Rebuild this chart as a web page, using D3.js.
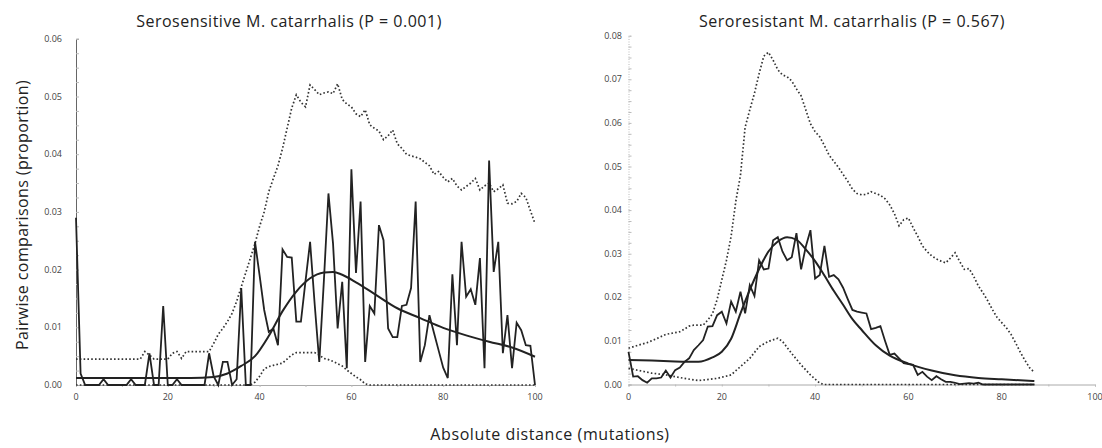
<!DOCTYPE html>
<html>
<head>
<meta charset="utf-8">
<script src="https://cdn.jsdelivr.net/npm/d3@7"></script>
<style>
  body { margin: 0; background: #fff; }
  text { font-family: "Open Sans", "Noto Sans", sans-serif; }
</style>
</head>
<body>
<div id="chart-area"></div>
<script>
// distance (mutations) = index in the observed arrays

// serosensitive: observed proportions at distance 0..100
var sensObserved = [
  0.029, 0.002, 0, 0, 0, 0, 0.001, 0, 0, 0,
  0, 0, 0.001, 0, 0, 0, 0.0055, 0, 0, 0.0137,
  0, 0, 0.001, 0, 0, 0, 0, 0, 0, 0.0055,
  0.0015, 0, 0.004, 0.004, 0, 0.001, 0.0168, 0, 0, 0.0248,
  0.019, 0.013, 0.0092, 0.0098, 0.0069, 0.0235, 0.0222, 0.0221, 0.011, 0.011,
  0.018, 0.0248, 0.014, 0.004, 0.018, 0.0332, 0.0245, 0.0098, 0.0179, 0.0029,
  0.0374, 0.0194, 0.0318, 0.004, 0.0137, 0.0124, 0.0277, 0.0251, 0.0098, 0.0083,
  0.0083, 0.0137, 0.0139, 0.0168, 0.0318, 0.004, 0.0069, 0.0121, 0.009, 0.006,
  0.003, 0.0012, 0.0192, 0.0069, 0.0248, 0.0153, 0.0166, 0.0139, 0.022, 0.0029,
  0.0389, 0.0196, 0.0248, 0.0055, 0.0121, 0.0029, 0.0108, 0.0095, 0.0069, 0.0068,
  0
];
var sensFitDist = [0, 5, 10, 15, 20, 25, 30, 33, 36, 39, 42, 45, 48, 51, 54, 56, 58, 61, 65, 70, 75, 80, 85, 90, 95, 100];
var sensFitVal  = [0.0012, 0.0012, 0.0012, 0.0012, 0.0012, 0.0012, 0.0014, 0.002, 0.0033, 0.005, 0.0085, 0.0128, 0.0162, 0.0185, 0.0195, 0.0196, 0.0191, 0.0178, 0.0158, 0.0133, 0.0116, 0.0099, 0.0086, 0.0075, 0.0065, 0.0049];
var sensUpperDist = [0, 14, 15, 16, 17, 20, 21, 22, 23, 24, 29, 30, 31, 32, 33, 34, 35, 36, 37, 38, 39, 40,
  41, 42, 43, 44, 45, 46, 47, 48, 49, 50, 51, 52, 53, 54, 55, 56, 57, 58, 59, 60,
  61, 62, 63, 64, 65, 66, 67, 68, 69, 70, 71, 72, 73, 74, 75, 76, 77, 78, 79, 80,
  81, 82, 83, 84, 85, 86, 87, 88, 89, 90, 91, 92, 93, 94, 95, 96, 97, 98, 99, 100];
var sensUpperVal = [0.0045, 0.0045, 0.0058, 0.0052, 0.0045, 0.0045, 0.0055, 0.0058, 0.0046, 0.0058, 0.0058, 0.0072, 0.0088, 0.0098, 0.011, 0.0124, 0.0145, 0.017, 0.0195, 0.022, 0.0245, 0.0275,
  0.03, 0.0335, 0.0358, 0.038, 0.041, 0.0445, 0.048, 0.0503, 0.049, 0.0482, 0.052, 0.0512, 0.0503, 0.0506, 0.0508, 0.0505, 0.0522, 0.0495, 0.0487, 0.0482,
  0.047, 0.0465, 0.0477, 0.0451, 0.0445, 0.044, 0.0425, 0.0432, 0.0442, 0.0418, 0.041, 0.04, 0.0397, 0.0395, 0.0392, 0.0386, 0.038, 0.0365, 0.037, 0.036,
  0.0352, 0.0358, 0.0345, 0.0338, 0.0344, 0.035, 0.0358, 0.0338, 0.0345, 0.035, 0.0335, 0.034, 0.0347, 0.0315, 0.0314, 0.0318, 0.0332, 0.0325, 0.0302, 0.028];
var sensLowerDist = [0, 38, 39, 40, 41, 42, 43, 44, 45, 46, 47, 48, 52, 53, 54, 55, 56, 57, 58, 59, 60, 61, 62, 63, 64, 100];
var sensLowerVal  = [0, 0, 0.0005, 0.0015, 0.0028, 0.0032, 0.0034, 0.0036, 0.0038, 0.0045, 0.0052, 0.0056, 0.0056, 0.0052, 0.0046, 0.0044, 0.0041, 0.0037, 0.0033, 0.0026, 0.002, 0.0014, 0.0009, 0.0002, 0, 0];

// seroresistant: observed proportions at distance 0..87
var resObserved = [
  0.0075, 0.0018, 0.0019, 0.001, 0.0004, 0.0014, 0.0014, 0.0016, 0.0032, 0.0016,
  0.0033, 0.0039, 0.0052, 0.006, 0.0079, 0.009, 0.0102, 0.0133, 0.0134, 0.0159,
  0.0167, 0.014, 0.019, 0.0167, 0.0213, 0.0163, 0.0228, 0.0203, 0.0285, 0.0264,
  0.0266, 0.0331, 0.0338, 0.0305, 0.0285, 0.0292, 0.0347, 0.0264, 0.0316, 0.0354,
  0.0243, 0.0251, 0.0318, 0.0247, 0.0251, 0.0241, 0.0222, 0.0196, 0.0171, 0.0167,
  0.0165, 0.0163, 0.0127, 0.013, 0.0134, 0.01, 0.0068, 0.0071, 0.006, 0.0049,
  0.0047, 0.0045, 0.0022, 0.0029, 0.0018, 0.001, 0.0019, 0.0012, 0.0006, 0.0006,
  0.0004, 0.0001, 0.0002, 0.0003, 0.0002, 0.0004, 0, 0, 0, 0,
  0, 0, 0, 0, 0, 0, 0, 0
];
var resFitDist = [0, 5, 10, 15, 18, 20, 22, 24, 26, 28, 30, 32, 34, 36, 38, 40, 42, 44, 46, 48, 50, 53, 56, 60, 65, 70, 75, 80, 87];
var resFitVal  = [0.0056, 0.0055, 0.0053, 0.0052, 0.0062, 0.0075, 0.0105, 0.0163, 0.0217, 0.0265, 0.0305, 0.0328, 0.0338, 0.0332, 0.031, 0.0283, 0.025, 0.0215, 0.0183, 0.015, 0.0125, 0.009, 0.0066, 0.0048, 0.0032, 0.0021, 0.0015, 0.0012, 0.0008];
var resUpperDist = [0, 2, 4, 6, 8, 10, 11, 12, 13, 14, 16, 17, 18, 19, 20, 21, 22, 23, 24, 25, 26, 27, 28, 29, 30,
  31, 32, 33, 34, 35, 36, 37, 38, 39, 40, 41, 42, 43, 44, 45, 46, 47, 48, 49, 50,
  51, 52, 53, 54, 55, 56, 57, 58, 59, 60, 61, 62, 63, 64, 65, 66, 67, 68, 69, 70,
  71, 72, 73, 74, 75, 76, 77, 78, 79, 80, 81, 82, 83, 84, 85, 86, 87];
var resUpperVal = [0.0083, 0.009, 0.0096, 0.0105, 0.0115, 0.0119, 0.0121, 0.0127, 0.0134, 0.0136, 0.0136, 0.0148, 0.0162, 0.0195, 0.024, 0.0285, 0.034, 0.042, 0.048, 0.059, 0.063, 0.0668, 0.0713, 0.0753, 0.0762,
  0.0744, 0.0722, 0.071, 0.0706, 0.0696, 0.0678, 0.0662, 0.063, 0.0598, 0.058, 0.0568, 0.0548, 0.0526, 0.0512, 0.0498, 0.0482, 0.0466, 0.0448, 0.0438, 0.0435,
  0.0436, 0.0442, 0.0438, 0.0434, 0.0426, 0.0412, 0.0392, 0.0364, 0.0378, 0.0382, 0.036, 0.034, 0.0318, 0.0305, 0.0295, 0.0288, 0.0283, 0.0279, 0.029, 0.0302,
  0.0282, 0.0264, 0.0266, 0.0248, 0.0226, 0.021, 0.0192, 0.0172, 0.0154, 0.0142, 0.013, 0.0115, 0.0095, 0.0074, 0.0055, 0.0038, 0.0028];
var resLowerDist = [0, 5, 8, 12, 15, 19, 22, 24, 26, 28, 30, 32, 33, 35, 37, 39, 41, 42, 87];
var resLowerVal  = [0.0037, 0.0026, 0.0022, 0.0014, 0.0009, 0.0014, 0.0022, 0.0041, 0.006, 0.0087, 0.0099, 0.0106, 0.0099, 0.0071, 0.0045, 0.0022, 0.0003, 0, 0];

var xTicks = [0, 20, 40, 60, 80, 100];
var sensYTicks = [0, 0.01, 0.02, 0.03, 0.04, 0.05, 0.06];
var resYTicks = [0, 0.01, 0.02, 0.03, 0.04, 0.05, 0.06, 0.07, 0.08];

var titles = ["Serosensitive M. catarrhalis (P = 0.001)", "Seroresistant M. catarrhalis (P = 0.567)"];

var width = 1102, height = 448;

var svg = d3.select("#chart-area")
  .append("svg")
  .attr("width", width)
  .attr("height", height)

function pairs(xs, ys) {
  return xs.map((x, i) => [x, ys[i]]);
}

var panels = [
  {
    title: titles[0], x0: 76, x1: 535, y0: 385, y1: 38.8, ymax: 0.06, yTicks: sensYTicks,
    yLabelX: 62, axisDark: true,
    observed: sensObserved.map((v, i) => [i, v]),
    fit: pairs(sensFitDist, sensFitVal),
    upper: pairs(sensUpperDist, sensUpperVal),
    lower: pairs(sensLowerDist, sensLowerVal),
    titleX: 289
  },
  {
    title: titles[1], x0: 628.5, x1: 1095, y0: 384.5, y1: 35.7, ymax: 0.08, yTicks: resYTicks,
    yLabelX: 622, axisDark: false,
    observed: resObserved.map((v, i) => [i, v]),
    fit: pairs(resFitDist, resFitVal),
    upper: pairs(resUpperDist, resUpperVal),
    lower: pairs(resLowerDist, resLowerVal),
    titleX: 852
  }
];

panels.forEach((p) => {
  var x = d3.scaleLinear().domain([0, 100]).range([p.x0, p.x1]);
  var y = d3.scaleLinear().domain([0, p.ymax]).range([p.y0, p.y1]);
  var g = svg.append("g");

  // y axis line and minor ticks
  var yAxis = d3.axisLeft(y)
    .tickValues(d3.range(0, p.ymax + 1e-9, 0.0025))
    .tickSize(-3)
    .tickFormat("");
  var ya = g.append("g")
    .attr("transform", "translate(" + p.x0 + ",0)")
    .call(yAxis);
  ya.select(".domain")
    .attr("stroke", p.axisDark ? "#666" : "#bbb")
    .attr("stroke-dasharray", p.axisDark ? null : "1,1.5");
  ya.selectAll(".tick line").attr("stroke", "#bbb");

  g.selectAll(".ylab")
    .data(p.yTicks)
    .enter()
    .append("text")
    .attr("x", p.yLabelX)
    .attr("y", (d) => y(d))
    .attr("dy", "0.35em")
    .attr("text-anchor", "end")
    .attr("font-size", "9px")
    .attr("fill", "#444")
    .text((d) => d.toFixed(2));

  // x axis
  var xAxis = d3.axisBottom(x)
    .tickValues(d3.range(0, 101, 10))
    .tickSize(2)
    .tickFormat("");
  var xa = g.append("g")
    .attr("transform", "translate(0," + p.y0 + ")")
    .call(xAxis);
  xa.select(".domain").attr("stroke", "#aaa");
  xa.selectAll(".tick line").attr("stroke", "#bbb");

  g.selectAll(".xlab")
    .data(xTicks)
    .enter()
    .append("text")
    .attr("x", (d) => x(d))
    .attr("y", p.y0 + 15)
    .attr("text-anchor", "middle")
    .attr("font-size", "9px")
    .attr("fill", "#444")
    .text((d) => d);

  var line = d3.line().x((d) => x(d[0])).y((d) => y(d[1]));
  var smooth = d3.line().x((d) => x(d[0])).y((d) => y(d[1])).curve(d3.curveMonotoneX);

  [p.upper, p.lower].forEach((env) => {
    g.append("path")
      .attr("d", line(env))
      .attr("fill", "none")
      .attr("stroke", "#333")
      .attr("stroke-width", 1.7)
      .attr("stroke-dasharray", "1.6,2.2");
  });

  g.append("path")
    .attr("d", smooth(p.fit))
    .attr("fill", "none")
    .attr("stroke", "#222")
    .attr("stroke-width", 2);

  g.append("path")
    .attr("d", line(p.observed))
    .attr("fill", "none")
    .attr("stroke", "#222")
    .attr("stroke-width", 1.8)
    .attr("stroke-linejoin", "miter");

  svg.append("text")
    .attr("x", p.titleX)
    .attr("y", 27)
    .attr("text-anchor", "middle")
    .attr("font-size", "16px")
    .attr("letter-spacing", "0.5px")
    .attr("fill", "#222")
    .text(p.title);
});

svg.append("text")
  .attr("transform", "rotate(-90)")
  .attr("x", -215)
  .attr("y", 28)
  .attr("text-anchor", "middle")
  .attr("font-size", "16px")
  .attr("letter-spacing", "0.4px")
  .attr("fill", "#222")
  .text("Pairwise comparisons (proportion)");

svg.append("text")
  .attr("x", 550)
  .attr("y", 440)
  .attr("text-anchor", "middle")
  .attr("font-size", "16px")
  .attr("letter-spacing", "0.6px")
  .attr("fill", "#222")
  .text("Absolute distance (mutations)");
</script>
</body>
</html>
